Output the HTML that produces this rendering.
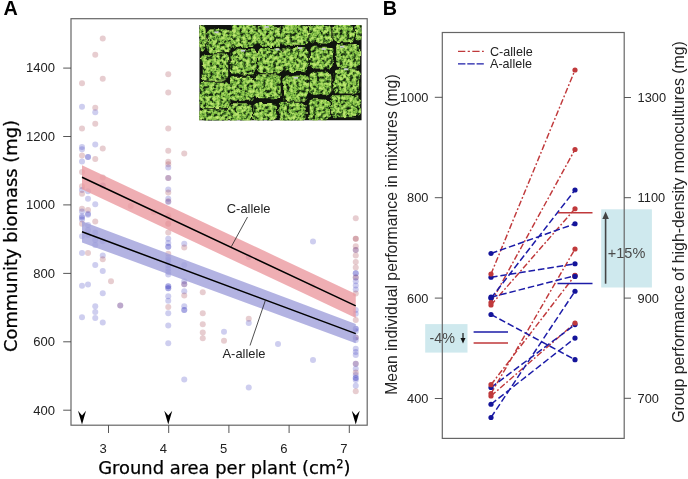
<!DOCTYPE html>
<html><head><meta charset="utf-8"><title>Figure</title>
<style>
html,body{margin:0;padding:0;background:#fff}
svg{display:block}
.t{font-family:"Liberation Sans",sans-serif;fill:#222}
.d{font-family:"DejaVu Sans","Liberation Sans",sans-serif;fill:#000;stroke:#000;stroke-width:.25}
.fr{fill:none;stroke:#666;stroke-width:1.2}
.tk{stroke:#444;stroke-width:0.9;fill:none}
.pr{fill:#a03c46;fill-opacity:.255}
.pb{fill:#3c3cc0;fill-opacity:.25}
.lr{stroke:#c0393b;stroke-width:1.45;fill:none;stroke-dasharray:6 2.2 1.8 2.2}
.lb{stroke:#1c1ca8;stroke-width:1.5;fill:none;stroke-dasharray:6.6 2.9}
.dr{fill:#c0393b}
.db{fill:#14149a}
</style></head><body>
<svg width="688" height="479" viewBox="0 0 688 479">
<defs>
<filter id="leaf" x="-5%" y="-5%" width="110%" height="110%" color-interpolation-filters="sRGB"><feTurbulence type="fractalNoise" baseFrequency="0.16" numOctaves="2" seed="9" result="w"/><feDisplacementMap in="SourceGraphic" in2="w" scale="6" xChannelSelector="R" yChannelSelector="G" result="shape"/><feTurbulence type="fractalNoise" baseFrequency="0.3" numOctaves="3" seed="4" result="n"/><feColorMatrix in="n" type="matrix" values="1.35 0 0 0 -0.13  1.35 0 0 0 -0.13  1.35 0 0 0 -0.13  0 0 0 0 1" result="m"/><feComponentTransfer in="m" result="c"><feFuncR type="table" tableValues=".06 .07 .12 .25 .44 .58 .68 .74 .76"/><feFuncG type="table" tableValues=".08 .10 .20 .42 .68 .80 .86 .90 .92"/><feFuncB type="table" tableValues=".05 .06 .08 .15 .24 .32 .40 .44 .46"/></feComponentTransfer><feComposite in="c" in2="shape" operator="in" result="g"/><feGaussianBlur in="g" stdDeviation="0.45"/></filter>
<clipPath id="ph"><rect x="199.25" y="25" width="162.5" height="95.5"/></clipPath>
</defs>
<rect width="688" height="479" fill="#fff"/>
<g id="pts">
<circle class="pr" cx="82" cy="83.25" r="3"/><circle class="pb" cx="82" cy="106.75" r="3"/><circle class="pr" cx="82" cy="128.5" r="3"/><circle class="pb" cx="82" cy="147" r="3"/><circle class="pb" cx="82" cy="149.25" r="3"/><circle class="pr" cx="82" cy="155.5" r="3"/><circle class="pb" cx="82" cy="161.5" r="3"/><circle class="pr" cx="82" cy="172" r="3"/><circle class="pr" cx="82" cy="186.25" r="3"/><circle class="pb" cx="82" cy="190" r="3"/><circle class="pr" cx="82" cy="193.75" r="3"/><circle class="pr" cx="82" cy="208.75" r="3"/><circle class="pb" cx="82" cy="211.5" r="3"/><circle class="pb" cx="82" cy="216.25" r="3"/><circle class="pb" cx="82" cy="217.5" r="3"/><circle class="pb" cx="82" cy="219.5" r="3"/><circle class="pr" cx="82" cy="223.75" r="3"/><circle class="pb" cx="82" cy="236.25" r="3"/><circle class="pb" cx="82" cy="253" r="3"/><circle class="pb" cx="82" cy="285.75" r="3"/><circle class="pb" cx="82" cy="317.3" r="3"/><circle class="pb" cx="88" cy="157" r="3"/><circle class="pb" cx="88" cy="157" r="3"/><circle class="pb" cx="88" cy="191.25" r="3"/><circle class="pb" cx="88" cy="198.75" r="3"/><circle class="pr" cx="88" cy="210" r="3"/><circle class="pb" cx="88" cy="213.75" r="3"/><circle class="pb" cx="88" cy="214.7" r="3"/><circle class="pb" cx="88" cy="225" r="3"/><circle class="pb" cx="88" cy="230" r="3"/><circle class="pb" cx="88" cy="235" r="3"/><circle class="pr" cx="88" cy="253" r="3"/><circle class="pb" cx="88" cy="284.5" r="3"/><circle class="pr" cx="95.25" cy="54.75" r="3"/><circle class="pr" cx="95.25" cy="107.75" r="3"/><circle class="pb" cx="95.25" cy="112.25" r="3"/><circle class="pr" cx="95.25" cy="123.75" r="3"/><circle class="pb" cx="95.25" cy="144.5" r="3"/><circle class="pr" cx="95.25" cy="159" r="3"/><circle class="pb" cx="95.25" cy="204.25" r="3"/><circle class="pr" cx="95.25" cy="221.5" r="3"/><circle class="pb" cx="95.25" cy="232.5" r="3"/><circle class="pb" cx="95.25" cy="240" r="3"/><circle class="pb" cx="95.25" cy="245" r="3"/><circle class="pb" cx="95.25" cy="265" r="3"/><circle class="pb" cx="95.25" cy="306.25" r="3"/><circle class="pb" cx="95.25" cy="312" r="3"/><circle class="pb" cx="95.25" cy="318" r="3"/><circle class="pr" cx="102.75" cy="38.5" r="3"/><circle class="pr" cx="102.75" cy="78.75" r="3"/><circle class="pr" cx="102.75" cy="148.5" r="3"/><circle class="pr" cx="102.75" cy="177.5" r="3"/><circle class="pr" cx="102.75" cy="185.5" r="3"/><circle class="pb" cx="102.75" cy="185.5" r="3"/><circle class="pb" cx="102.75" cy="241.25" r="3"/><circle class="pb" cx="102.75" cy="255.5" r="3"/><circle class="pr" cx="102.75" cy="259.25" r="3"/><circle class="pb" cx="102.75" cy="271" r="3"/><circle class="pb" cx="102.75" cy="293.25" r="3"/><circle class="pb" cx="102.75" cy="322.5" r="3"/><circle class="pr" cx="111" cy="281.25" r="3"/><circle class="pr" cx="120.25" cy="305.5" r="3"/><circle class="pb" cx="120.25" cy="305.5" r="3"/><circle class="pr" cx="130.75" cy="206" r="3"/><circle class="pr" cx="153.75" cy="212" r="3"/><circle class="pr" cx="168.25" cy="74.25" r="3"/><circle class="pr" cx="168.25" cy="92.5" r="3"/><circle class="pr" cx="168.25" cy="128.5" r="3"/><circle class="pr" cx="168.25" cy="150.75" r="3"/><circle class="pr" cx="168.25" cy="161.75" r="3"/><circle class="pr" cx="168.25" cy="164.25" r="3"/><circle class="pb" cx="168.25" cy="167.5" r="3"/><circle class="pb" cx="168.25" cy="178" r="3"/><circle class="pr" cx="168.25" cy="178" r="3"/><circle class="pb" cx="168.25" cy="189.5" r="3"/><circle class="pr" cx="168.25" cy="192.5" r="3"/><circle class="pb" cx="168.25" cy="198.75" r="3"/><circle class="pr" cx="168.25" cy="201.25" r="3"/><circle class="pb" cx="168.25" cy="202" r="3"/><circle class="pr" cx="168.25" cy="215.5" r="3"/><circle class="pr" cx="168.25" cy="217.5" r="3"/><circle class="pr" cx="168.25" cy="223.75" r="3"/><circle class="pr" cx="168.25" cy="223.75" r="3"/><circle class="pr" cx="168.25" cy="232.5" r="3"/><circle class="pb" cx="168.25" cy="238.75" r="3"/><circle class="pb" cx="168.25" cy="243" r="3"/><circle class="pb" cx="168.25" cy="246.75" r="3"/><circle class="pb" cx="168.25" cy="246.75" r="3"/><circle class="pr" cx="168.25" cy="253.75" r="3"/><circle class="pb" cx="168.25" cy="257.5" r="3"/><circle class="pb" cx="168.25" cy="260" r="3"/><circle class="pb" cx="168.25" cy="262.5" r="3"/><circle class="pb" cx="168.25" cy="265.5" r="3"/><circle class="pb" cx="168.25" cy="268.75" r="3"/><circle class="pb" cx="168.25" cy="271.75" r="3"/><circle class="pb" cx="168.25" cy="274.5" r="3"/><circle class="pb" cx="168.25" cy="286.25" r="3"/><circle class="pb" cx="168.25" cy="286.25" r="3"/><circle class="pb" cx="168.25" cy="288.25" r="3"/><circle class="pb" cx="168.25" cy="288.25" r="3"/><circle class="pb" cx="168.25" cy="296.25" r="3"/><circle class="pb" cx="168.25" cy="300.75" r="3"/><circle class="pr" cx="168.25" cy="307" r="3"/><circle class="pb" cx="168.25" cy="313.25" r="3"/><circle class="pb" cx="168.25" cy="325.5" r="3"/><circle class="pb" cx="168.25" cy="343.25" r="3"/><circle class="pr" cx="184.25" cy="153.5" r="3"/><circle class="pb" cx="184.25" cy="243.75" r="3"/><circle class="pr" cx="184.25" cy="247.5" r="3"/><circle class="pb" cx="184.25" cy="265" r="3"/><circle class="pb" cx="184.25" cy="281.25" r="3"/><circle class="pr" cx="184.25" cy="284.25" r="3"/><circle class="pb" cx="184.25" cy="284.25" r="3"/><circle class="pb" cx="184.25" cy="291.25" r="3"/><circle class="pr" cx="184.25" cy="295.5" r="3"/><circle class="pb" cx="184.25" cy="306.25" r="3"/><circle class="pb" cx="184.25" cy="310" r="3"/><circle class="pb" cx="184.25" cy="310" r="3"/><circle class="pb" cx="184.25" cy="379.5" r="3"/><circle class="pr" cx="202.75" cy="292.25" r="3"/><circle class="pr" cx="202.75" cy="313.25" r="3"/><circle class="pr" cx="202.75" cy="324.25" r="3"/><circle class="pr" cx="202.75" cy="332.5" r="3"/><circle class="pr" cx="202.75" cy="338.25" r="3"/><circle class="pb" cx="224" cy="331.75" r="3"/><circle class="pr" cx="224" cy="340.75" r="3"/><circle class="pr" cx="248.75" cy="257" r="3"/><circle class="pb" cx="248.75" cy="257" r="3"/><circle class="pr" cx="248.75" cy="318.75" r="3"/><circle class="pb" cx="248.75" cy="323" r="3"/><circle class="pb" cx="248.75" cy="387.5" r="3"/><circle class="pb" cx="278" cy="344" r="3"/><circle class="pb" cx="313" cy="241.5" r="3"/><circle class="pr" cx="312.5" cy="286.25" r="3"/><circle class="pb" cx="313" cy="360" r="3"/><circle class="pr" cx="355.75" cy="218.25" r="3"/><circle class="pr" cx="355.75" cy="238.75" r="3"/><circle class="pr" cx="355.75" cy="238.75" r="3"/><circle class="pr" cx="355.75" cy="246.25" r="3"/><circle class="pb" cx="355.75" cy="250" r="3"/><circle class="pr" cx="355.75" cy="250" r="3"/><circle class="pr" cx="355.75" cy="255.5" r="3"/><circle class="pr" cx="355.75" cy="262" r="3"/><circle class="pr" cx="355.75" cy="267.5" r="3"/><circle class="pb" cx="355.75" cy="273.25" r="3"/><circle class="pb" cx="355.75" cy="273.25" r="3"/><circle class="pb" cx="355.75" cy="277.5" r="3"/><circle class="pr" cx="355.75" cy="277.5" r="3"/><circle class="pb" cx="355.75" cy="281.25" r="3"/><circle class="pb" cx="355.75" cy="285.5" r="3"/><circle class="pb" cx="355.75" cy="289.5" r="3"/><circle class="pr" cx="355.75" cy="293.6" r="3"/><circle class="pb" cx="355.75" cy="310" r="3"/><circle class="pb" cx="355.75" cy="313.75" r="3"/><circle class="pr" cx="355.75" cy="320" r="3"/><circle class="pb" cx="355.75" cy="328.75" r="3"/><circle class="pb" cx="355.75" cy="328.75" r="3"/><circle class="pb" cx="355.75" cy="331.25" r="3"/><circle class="pr" cx="355.75" cy="337.5" r="3"/><circle class="pb" cx="355.75" cy="337.5" r="3"/><circle class="pb" cx="355.75" cy="340" r="3"/><circle class="pb" cx="355.75" cy="348.75" r="3"/><circle class="pb" cx="355.75" cy="352" r="3"/><circle class="pb" cx="355.75" cy="355" r="3"/><circle class="pr" cx="355.75" cy="363.75" r="3"/><circle class="pb" cx="355.75" cy="363.75" r="3"/><circle class="pb" cx="355.75" cy="368.75" r="3"/><circle class="pr" cx="355.75" cy="372.5" r="3"/><circle class="pb" cx="355.75" cy="375" r="3"/><circle class="pb" cx="355.75" cy="378" r="3"/><circle class="pb" cx="355.75" cy="378" r="3"/><circle class="pb" cx="355.75" cy="380" r="3"/><circle class="pb" cx="355.75" cy="385.75" r="3"/><circle class="pr" cx="355.75" cy="391.25" r="3"/>
</g>
<g id="bands" opacity="0.8">
<path d="M82 165.3 Q218.875 229.6 355.75 293.9 L355.75 317.9 Q218.875 253.6 82 189.3Z" fill="#ec9ba1"/>
<path d="M82 221.20000000000002 Q218.875 272.6 355.75 324.0 L355.75 343.20000000000005 Q218.875 292.80000000000007 82 242.4Z" fill="#a1a1db"/>
</g>
<path d="M82 177.3L355.75 305.9M82 231.8L355.75 333.6" stroke="#000" stroke-width="1.5" fill="none"/>
<path d="M247.5 217L231.25 246.75M265.5 300L250 345.5" stroke="#222" stroke-width="0.8" fill="none"/>
<text class="t" x="226.8" y="212.5" font-size="12.9">C-allele</text>
<text class="t" x="222.5" y="358.3" font-size="12.9">A-allele</text>
<g clip-path="url(#ph)">
<rect x="199.25" y="25" width="162.5" height="95.5" fill="#10140e"/>
<g filter="url(#leaf)" fill="#6a3">
<rect x="198.55" y="24.30" width="7.15" height="26.40" rx="5"/><rect x="206.80" y="29.30" width="23.90" height="23.90" rx="5"/><rect x="230.55" y="24.30" width="26.40" height="22.65" rx="5"/><rect x="256.80" y="24.80" width="23.90" height="22.15" rx="5"/><rect x="280.55" y="24.80" width="27.65" height="20.90" rx="5"/><rect x="308.65" y="24.80" width="22.70" height="18.65" rx="5"/><rect x="332.40" y="24.80" width="21.45" height="17.40" rx="5"/><rect x="354.90" y="24.80" width="6.95" height="16.15" rx="5"/><rect x="201.80" y="54.30" width="26.40" height="26.40" rx="5"/><rect x="230.55" y="49.30" width="26.40" height="25.15" rx="5"/><rect x="258.05" y="48.05" width="23.90" height="25.15" rx="5"/><rect x="281.80" y="48.05" width="26.40" height="23.90" rx="5"/><rect x="309.90" y="46.80" width="23.95" height="21.65" rx="5"/><rect x="336.15" y="44.30" width="23.95" height="24.15" rx="5"/><rect x="199.30" y="81.80" width="30.15" height="26.40" rx="5"/><rect x="229.05" y="76.80" width="24.15" height="23.90" rx="5"/><rect x="253.05" y="74.30" width="27.65" height="23.90" rx="5"/><rect x="283.05" y="75.55" width="25.15" height="25.15" rx="5"/><rect x="308.65" y="71.80" width="22.70" height="22.90" rx="5"/><rect x="333.65" y="69.30" width="26.45" height="24.15" rx="5"/><rect x="198.55" y="109.30" width="29.65" height="12.40" rx="5"/><rect x="227.80" y="104.30" width="24.15" height="17.40" rx="5"/><rect x="253.05" y="103.05" width="23.90" height="18.65" rx="5"/><rect x="279.30" y="101.80" width="26.40" height="19.90" rx="5"/><rect x="308.65" y="99.30" width="21.45" height="21.40" rx="5"/><rect x="331.15" y="95.30" width="28.95" height="21.90" rx="5"/>
</g>
<g fill="#c9ced2"><rect x="214.5" y="31.4" width="4.2" height="1.7"/><rect x="264.7" y="26.1" width="4.2" height="1.7"/><rect x="241.0" y="49.9" width="4.2" height="1.7"/><rect x="275.3" y="48.6" width="4.2" height="1.7"/><rect x="297.8" y="47.2" width="4.2" height="1.7"/><rect x="321.6" y="48.1" width="4.2" height="1.7"/><rect x="293.8" y="76.9" width="4.2" height="1.7"/><rect x="344.0" y="68.4" width="4.2" height="1.7"/><rect x="340.0" y="45.9" width="4.2" height="1.7"/></g>
</g>
<rect class="fr" x="71" y="18.7" width="296.2" height="406.5"/>
<path class="tk" d="M63.2 68.1H71M63.2 136.5H71M63.2 204.9H71M63.2 273.4H71M63.2 341.8H71M63.2 410.2H71M108.5 425.2V433M168.7 425.2V433M228.9 425.2V433M289.1 425.2V433M349.3 425.2V433"/>
<text class="t" transform="translate(55 72.4) scale(1.07 1)" font-size="12.2" text-anchor="end">1400</text><text class="t" transform="translate(55 140.8) scale(1.07 1)" font-size="12.2" text-anchor="end">1200</text><text class="t" transform="translate(55 209.2) scale(1.07 1)" font-size="12.2" text-anchor="end">1000</text><text class="t" transform="translate(55 277.7) scale(1.07 1)" font-size="12.2" text-anchor="end">800</text><text class="t" transform="translate(55 346.1) scale(1.07 1)" font-size="12.2" text-anchor="end">600</text><text class="t" transform="translate(55 414.5) scale(1.07 1)" font-size="12.2" text-anchor="end">400</text>
<text class="t" transform="translate(103.20 453.3) scale(1.07 1)" font-size="12.2" text-anchor="middle">3</text><text class="t" transform="translate(163.40 453.3) scale(1.07 1)" font-size="12.2" text-anchor="middle">4</text><text class="t" transform="translate(223.60 453.3) scale(1.07 1)" font-size="12.2" text-anchor="middle">5</text><text class="t" transform="translate(283.80 453.3) scale(1.07 1)" font-size="12.2" text-anchor="middle">6</text><text class="t" transform="translate(344.00 453.3) scale(1.07 1)" font-size="12.2" text-anchor="middle">7</text>
<path d="M82 424.6L78 410.8L82 415.6L86 410.8Z" fill="#000"/><path d="M168.25 424.6L164.25 410.8L168.25 415.6L172.25 410.8Z" fill="#000"/><path d="M355.75 424.6L351.75 410.8L355.75 415.6L359.75 410.8Z" fill="#000"/>
<text class="d" x="98.2" y="474.3" font-size="17.9">Ground area per plant (cm<tspan font-size="11.5" dy="-6.5">2</tspan><tspan dy="6.5">)</tspan></text>
<text class="d" transform="translate(16.8 352) rotate(-90)" font-size="17.9">Community biomass (mg)</text>
<text class="t" x="3.4" y="15.4" font-size="19.8" font-weight="bold" style="fill:#000">A</text>
<text class="t" x="382.8" y="15.4" font-size="19.8" font-weight="bold" style="fill:#000">B</text>
<rect x="601.2" y="209.3" width="50.7" height="78.2" fill="#cfe9ee"/>
<rect x="425.2" y="324.1" width="42.3" height="28.5" fill="#cfe9ee"/>
<rect class="fr" x="442.3" y="32.5" width="181.9" height="405.9"/>
<path class="tk" d="M434.8 97.3H442.3M434.8 197.7H442.3M434.8 298.1H442.3M434.8 398.5H442.3M624.2 97.5H631M624.2 197.7H631M624.2 298.1H631M624.2 398.3H631"/>
<text class="t" transform="translate(428.4 101.7) scale(1.06 1)" font-size="12.1" text-anchor="end">1000</text><text class="t" transform="translate(428.4 202.1) scale(1.06 1)" font-size="12.1" text-anchor="end">800</text><text class="t" transform="translate(428.4 302.5) scale(1.06 1)" font-size="12.1" text-anchor="end">600</text><text class="t" transform="translate(428.4 402.9) scale(1.06 1)" font-size="12.1" text-anchor="end">400</text><text class="t" transform="translate(637.6 101.9) scale(1.06 1)" font-size="12.1">1300</text><text class="t" transform="translate(637.6 202.1) scale(1.06 1)" font-size="12.1">1100</text><text class="t" transform="translate(637.6 302.5) scale(1.06 1)" font-size="12.1">900</text><text class="t" transform="translate(637.6 402.7) scale(1.06 1)" font-size="12.1">700</text>
<path class="lr" d="M491 274L575 70M491 302.5L575 149.5M491 305L575 208.75M491 384.7L575 275.4M491 393.6L575 249M491 396L575 323"/>
<path class="lb" d="M491 253.5L575 223.75M491 277.25L575 263.75M491 297.2L575 275.7M491 298.2L575 190M491 314.5L575 359.7M491 387.5L575 324.6M491 404.25L575 338.1M491 417.5L575 291.25"/>
<g class="db"><circle cx="491" cy="253.5" r="2.6"/><circle cx="575" cy="223.75" r="2.6"/><circle cx="491" cy="277.25" r="2.6"/><circle cx="575" cy="263.75" r="2.6"/><circle cx="491" cy="297.2" r="2.6"/><circle cx="575" cy="275.7" r="2.6"/><circle cx="491" cy="298.2" r="2.6"/><circle cx="575" cy="190" r="2.6"/><circle cx="491" cy="314.5" r="2.6"/><circle cx="575" cy="359.7" r="2.6"/><circle cx="491" cy="387.5" r="2.6"/><circle cx="575" cy="324.6" r="2.6"/><circle cx="491" cy="404.25" r="2.6"/><circle cx="575" cy="338.1" r="2.6"/><circle cx="491" cy="417.5" r="2.6"/><circle cx="575" cy="291.25" r="2.6"/></g>
<g class="dr"><circle cx="491" cy="274" r="2.6"/><circle cx="575" cy="70" r="2.6"/><circle cx="491" cy="302.5" r="2.6"/><circle cx="575" cy="149.5" r="2.6"/><circle cx="491" cy="305" r="2.6"/><circle cx="575" cy="208.75" r="2.6"/><circle cx="491" cy="384.7" r="2.6"/><circle cx="575" cy="275.4" r="2.6"/><circle cx="491" cy="393.6" r="2.6"/><circle cx="575" cy="249" r="2.6"/><circle cx="491" cy="396" r="2.6"/><circle cx="575" cy="323" r="2.6"/></g>
<circle class="db" cx="575" cy="276.4" r="2.6"/>
<path d="M558 212.7H592.5M473.6 342.9H508" stroke="#c0393b" stroke-width="1.5" fill="none"/>
<path d="M557.5 283.6H592.5M473.6 332.1H508" stroke="#1c1ca8" stroke-width="1.5" fill="none"/>
<path d="M605.6 283.7V217" stroke="#444" stroke-width="1.6" fill="none"/><path d="M605.6 211.6L602.3 219H608.9Z" fill="#444"/>
<path d="M463 332.9V340" stroke="#111" stroke-width="1.15" fill="none"/><path d="M463 343.6L460.5 338H465.5Z" fill="#111"/>
<text class="t" x="607.8" y="257.7" font-size="14.5" style="fill:#4a4a4a">+15%</text>
<text class="t" x="429.6" y="343.4" font-size="14.3" style="fill:#4a4a4a">-4%</text>
<path class="lr" style="stroke-dasharray:7.3 2.4 2.2 2.4;stroke-width:1.2" d="M458 51.3H483.8"/><path class="lb" style="stroke-dasharray:7.4 1.9;stroke-width:1.3" d="M458 63.9H483.8"/>
<text class="t" x="490" y="55.6" font-size="12.6">C-allele</text><text class="t" x="490" y="68.2" font-size="12.6">A-allele</text>
<text class="t" transform="translate(396.5 394.8) rotate(-90)" font-size="15.8">Mean individual performance in mixtures (mg)</text>
<text class="t" transform="translate(683.5 422.8) rotate(-90)" font-size="15.87">Group performance of high-density monocultures (mg)</text>
</svg>
</body></html>
